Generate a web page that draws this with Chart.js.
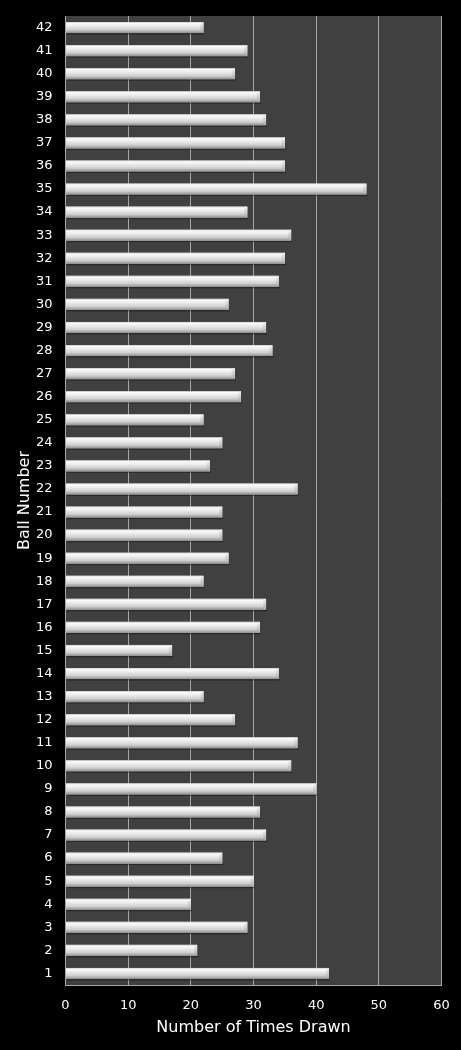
<!DOCTYPE html>
<html>
<head>
<meta charset="utf-8">
<script src="https://cdn.jsdelivr.net/npm/chart.js@4.4.0/dist/chart.umd.min.js"></script>
<style>
html,body{margin:0;padding:0;background:#000;}
#wrap{width:461px;height:1050px;position:relative;}
</style>
</head>
<body>
<div id="wrap"><canvas id="c" width="461" height="1050"></canvas></div>
<script>
const ballNumbers = ['1','2','3','4','5','6','7','8','9','10','11','12','13','14','15','16','17','18','19','20','21','22','23','24','25','26','27','28','29','30','31','32','33','34','35','36','37','38','39','40','41','42'];
const timesDrawn = [42,21,29,20,30,25,32,31,40,36,37,27,22,34,17,31,32,22,26,25,25,37,23,25,22,28,27,33,32,26,34,35,36,29,48,35,35,32,31,27,29,22];
const xTicks = [0,10,20,30,40,50,60];

const plotBg = {
  id:'plotBg',
  beforeDraw(chart){
    const {ctx, chartArea:a} = chart;
    ctx.save();
    ctx.fillStyle = '#000';
    ctx.fillRect(0,0,chart.width,chart.height);
    ctx.fillStyle = '#404040';
    ctx.fillRect(a.left, a.top, a.right-a.left, a.bottom-a.top);
    ctx.restore();
  }
};

const barShade = {
  id:'barShade',
  afterDatasetsDraw(chart){
    const ctx = chart.ctx;
    const meta = chart.getDatasetMeta(0);
    ctx.save();
    meta.data.forEach(el=>{
      const p = el.getProps(['x','y','base','height'], true);
      const top = p.y - p.height/2, bot = p.y + p.height/2;
      const l = Math.min(p.base,p.x), r = Math.max(p.base,p.x);
      ctx.fillStyle = 'rgba(0,0,0,0.35)';
      ctx.fillRect(l+1, bot, r-l, 1.5);
      const g = ctx.createLinearGradient(0, top, 0, bot);
      g.addColorStop(0, '#c8c8c8');
      g.addColorStop(0.12, '#fbfbfb');
      g.addColorStop(0.35, '#ececec');
      g.addColorStop(0.7, '#cfcfcf');
      g.addColorStop(1, '#8e8e8e');
      ctx.fillStyle = g;
      ctx.fillRect(l, top, r-l, bot-top);
      const g2 = ctx.createLinearGradient(0, top, 0, bot);
      g2.addColorStop(0, '#f4f4f4');
      g2.addColorStop(1, '#a8a8a8');
      ctx.fillStyle = g2;
      ctx.beginPath();
      ctx.moveTo(r-3, top+2);
      ctx.lineTo(r, top);
      ctx.lineTo(r, bot);
      ctx.lineTo(r-3, bot-2);
      ctx.closePath();
      ctx.fill();
    });
    ctx.restore();
  }
};

new Chart(document.getElementById('c'), {
  type:'bar',
  data:{
    labels: ballNumbers,
    datasets:[{
      label:'Number of Times Drawn',
      data: timesDrawn,
      backgroundColor:'#d0d0d0',
      borderWidth:0,
      barPercentage:1.0,
      categoryPercentage:0.48
    }]
  },
  options:{
    indexAxis:'y',
    responsive:false,
    animation:false,
    devicePixelRatio:1,
    layout:{padding:{top:16,right:19.5,left:0,bottom:0}},
    plugins:{legend:{display:false},tooltip:{enabled:false}},
    scales:{
      x:{
        min:0,max:60,
        afterBuildTicks(axis){ axis.ticks = xTicks.map(v=>({value:v})); },
        grid:{color:'#a6a6a6',lineWidth:1,drawTicks:false},
        border:{display:true,color:'#a6a6a6',width:1},
        ticks:{color:'#ffffff',font:{family:'DejaVu Sans',size:13},padding:13,maxRotation:0},
        title:{display:true,text:'Number of Times Drawn',color:'#ffffff',font:{family:'DejaVu Sans',size:16},padding:{top:0,bottom:13}},
        afterFit(axis){ axis.height = 65; axis.paddingLeft = 0; axis.paddingRight = 0; }
      },
      y:{
        reverse:true,
        grid:{display:false,drawTicks:false},
        border:{display:true,color:'#a6a6a6',width:1},
        ticks:{color:'#ffffff',font:{family:'DejaVu Sans',size:13},padding:13,autoSkip:false},
        title:{display:true,text:'Ball Number',color:'#ffffff',font:{family:'DejaVu Sans',size:16},padding:{top:15,bottom:0}},
        afterFit(axis){ axis.width = 65.5; axis.paddingTop = 0; axis.paddingBottom = 0; }
      }
    }
  },
  plugins:[plotBg, barShade]
});
</script>
</body>
</html>
